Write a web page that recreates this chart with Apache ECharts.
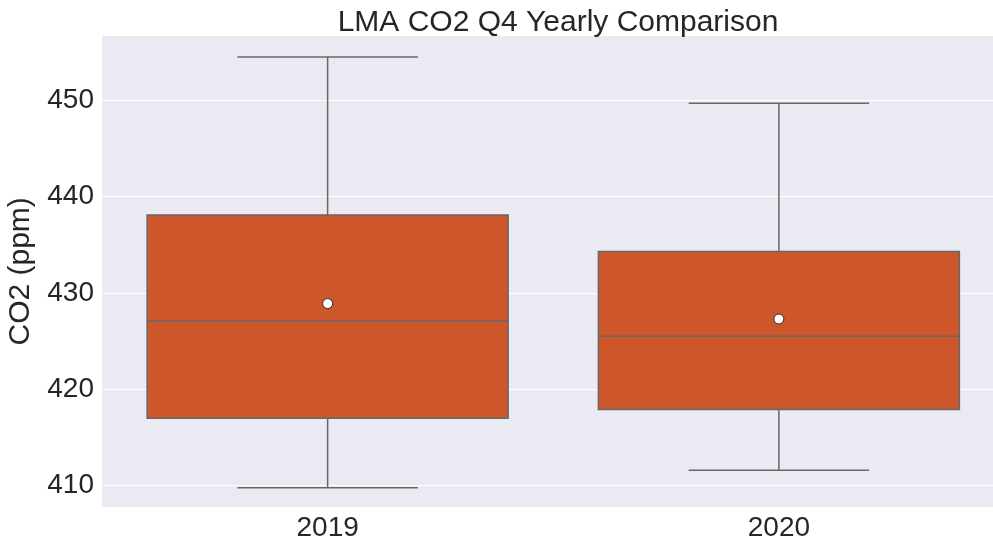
<!DOCTYPE html>
<html>
<head>
<meta charset="utf-8">
<script src="https://cdn.jsdelivr.net/npm/echarts@6/dist/echarts.min.js"></script>
<style>
html,body{margin:0;padding:0;background:#fff;}
#main{width:993px;height:544px;}
</style>
</head>
<body>
<div id="main"></div>
<script>
var categories = ['2019', '2020'];
var whiskerLow = [409.8, 411.6];
var q1 = [417.0, 417.9];
var median = [427.1, 425.5];
var q3 = [438.1, 434.3];
var whiskerHigh = [454.5, 449.7];
var means = [428.9, 427.3];

var FONT = 'Liberation Sans, Arial, sans-serif';
var boxData = categories.map(function (c, i) {
  return [i, whiskerLow[i], q1[i], median[i], q3[i], whiskerHigh[i]];
});
var meanData = categories.map(function (c, i) { return [i, means[i]]; });

var chart = echarts.init(document.getElementById('main'), null, {renderer: 'canvas'});
chart.setOption({
  animation: false,
  backgroundColor: '#ffffff',
  title: {
    text: 'LMA CO2 Q4 Yearly Comparison',
    left: 553, top: 3, textAlign: 'center',
    textStyle: {fontFamily: FONT, fontSize: 30, fontWeight: 'normal', color: '#262626'}
  },
  grid: {
    left: 102, width: 902.5, top: 35.7, bottom: 37,
    outerBoundsMode: 'none', containLabel: false,
    show: true, backgroundColor: '#EAEAF2', borderWidth: 0
  },
  xAxis: {
    type: 'category',
    data: categories,
    axisLine: {show: false},
    axisTick: {show: false},
    splitLine: {show: false},
    axisLabel: {fontFamily: FONT, fontSize: 28, color: '#262626', margin: 7}
  },
  yAxis: {
    type: 'value',
    min: 407.79, max: 456.7,
    splitNumber: 5,
    name: 'CO2 (ppm)',
    nameLocation: 'middle',
    nameGap: 66,
    nameTextStyle: {fontFamily: FONT, fontSize: 30, color: '#262626'},
    axisLine: {show: false},
    axisTick: {show: false},
    axisLabel: {fontFamily: FONT, fontSize: 28, color: '#262626', margin: 8,
      showMinLabel: false, showMaxLabel: false},
    splitLine: {show: true, lineStyle: {color: '#ffffff', width: 1}}
  },
  series: [
    {
      type: 'custom',
      data: boxData,
      encode: {x: 0, y: [1, 2, 3, 4, 5]},
      renderItem: function (params, api) {
        var idx = api.value(0);
        var band = api.size([1, 0])[0];
        var bw = band * 0.8;
        var cw = bw / 2;
        var pLow = api.coord([idx, api.value(1)]);
        var pQ1 = api.coord([idx, api.value(2)]);
        var pMed = api.coord([idx, api.value(3)]);
        var pQ3 = api.coord([idx, api.value(4)]);
        var pHigh = api.coord([idx, api.value(5)]);
        var cx = pMed[0];
        var lineStyle = {stroke: '#676767', lineWidth: 1.5};
        return {
          type: 'group',
          children: [
            {type: 'line', shape: {x1: cx, y1: pQ3[1], x2: cx, y2: pHigh[1]}, style: lineStyle},
            {type: 'line', shape: {x1: cx, y1: pQ1[1], x2: cx, y2: pLow[1]}, style: lineStyle},
            {type: 'line', shape: {x1: cx - cw / 2, y1: pHigh[1], x2: cx + cw / 2, y2: pHigh[1]}, style: lineStyle},
            {type: 'line', shape: {x1: cx - cw / 2, y1: pLow[1], x2: cx + cw / 2, y2: pLow[1]}, style: lineStyle},
            {type: 'rect', shape: {x: cx - bw / 2, y: pQ3[1], width: bw, height: pQ1[1] - pQ3[1]},
              style: {fill: '#CD562A', stroke: '#676767', lineWidth: 1.5}},
            {type: 'line', shape: {x1: cx - bw / 2, y1: pMed[1], x2: cx + bw / 2, y2: pMed[1]}, style: lineStyle}
          ]
        };
      },
      z: 2
    },
    {
      type: 'scatter',
      data: meanData,
      symbol: 'circle',
      symbolSize: 10,
      itemStyle: {color: '#ffffff', borderColor: '#2a2a2a', borderWidth: 1, opacity: 1},
      z: 5
    }
  ]
});
</script>
</body>
</html>
